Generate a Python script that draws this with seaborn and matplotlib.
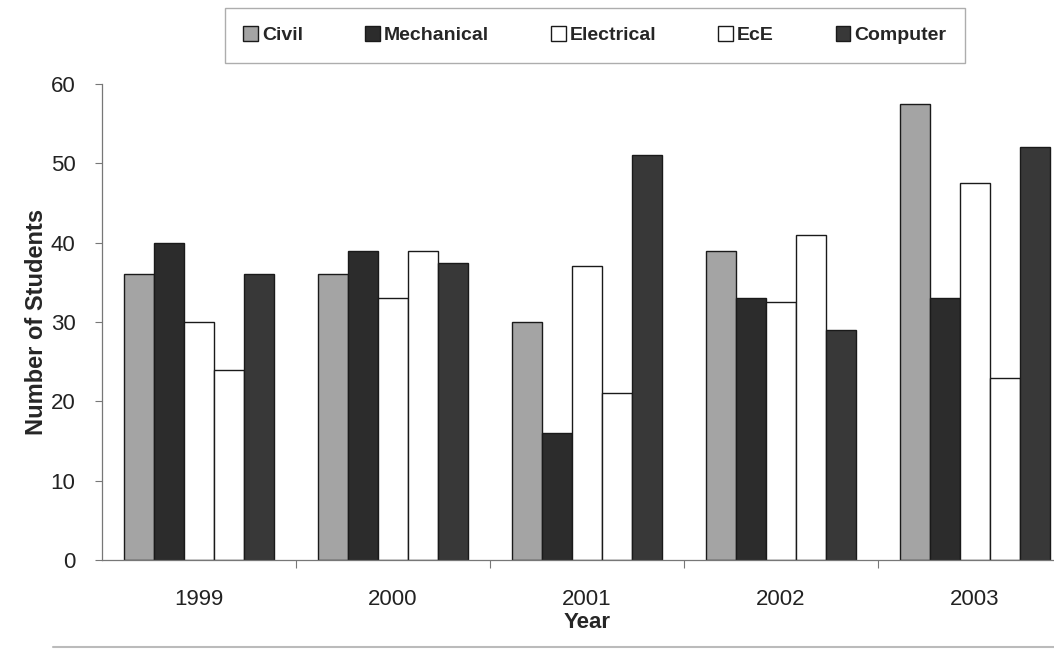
import pandas as pd
import matplotlib.pyplot as plt
import seaborn as sns

# values
years = ["1999", "2000", "2001", "2002", "2003"]
branches = ["Civil", "Mechanical", "Electrical", "EcE", "Computer"]
civil = [36, 36, 30, 39, 57.5]
mechanical = [40, 39, 16, 33, 33]
electrical = [30, 33, 37, 32.5, 47.5]
ece = [24, 39, 21, 41, 23]
computer = [36, 37.5, 51, 29, 52]

data = pd.DataFrame({
    "Year": years * 5,
    "Branch": [b for b in branches for _ in years],
    "Students": civil + mechanical + electrical + ece + computer,
})

colors = ["#a4a4a4", "#2c2c2c", "#ffffff", "#ffffff", "#383838"]

sns.set_style("white")
plt.rcParams["font.family"] = ["Liberation Sans", "DejaVu Sans"]

fig = plt.figure(figsize=(10.54, 6.55), dpi=100)
ax = fig.add_axes([102 / 1054, 95 / 655, 970 / 1054, 476 / 655])

sns.barplot(data=data, x="Year", y="Students", hue="Branch", palette=colors,
            width=0.775, gap=0, edgecolor="#1a1a1a", linewidth=1.0,
            saturation=1, ax=ax)

ax.set_xlim(-0.5, 4.5)
ax.set_ylim(0, 60)
ax.set_yticks(range(0, 61, 10))
ax.tick_params(axis="y", labelsize=16, length=5, width=0.8, pad=14,
               color="#777777", left=True, labelcolor="#222222")
ax.tick_params(axis="x", labelsize=16, length=0, pad=21, labelcolor="#222222")
ax.set_xticks([0.5, 1.5, 2.5, 3.5], minor=True)
ax.tick_params(axis="x", which="minor", length=6, width=0.8, color="#777777",
               bottom=True)

for side in ["top", "right"]:
    ax.spines[side].set_visible(False)
for side in ["left", "bottom"]:
    ax.spines[side].set_color("#777777")
    ax.spines[side].set_linewidth(0.9)

ax.set_xlabel("Year", fontsize=16, fontweight="bold", labelpad=1)
ax.set_ylabel("Number of Students", fontsize=17, fontweight="bold", labelpad=2)

handles, labels = ax.get_legend_handles_labels()
ax.legend(handles, labels, ncol=5, loc="upper left",
          bbox_to_anchor=(225 / 1054, 1 - 8 / 655), bbox_transform=fig.transFigure,
          frameon=True, fancybox=False, edgecolor="#999999",
          prop={"weight": "bold", "size": 14},
          handlelength=0.75, handleheight=0.75, handletextpad=0.2,
          columnspacing=3.2, borderpad=0.95, borderaxespad=0)

fig.add_artist(plt.Line2D([0.05, 1.0], [8 / 655, 8 / 655], color="#bbbbbb",
                          linewidth=1.5, transform=fig.transFigure))

fig.savefig("out.png", dpi=100)
